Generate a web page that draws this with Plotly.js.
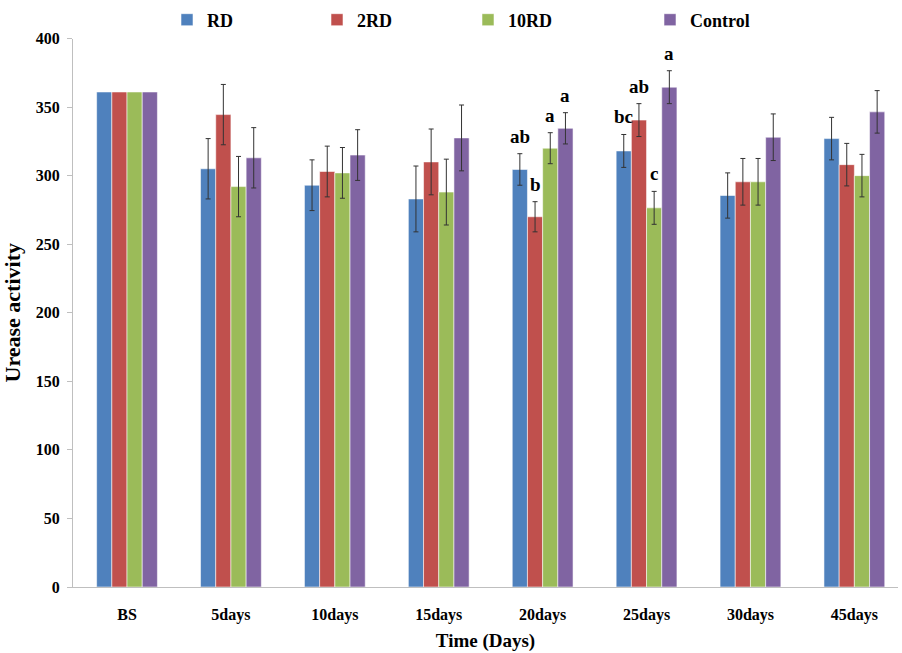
<!DOCTYPE html>
<html>
<head>
<meta charset="utf-8">
<script src="https://cdn.plot.ly/plotly-3.0.1.min.js"></script>
<style>html,body{margin:0;padding:0;background:#fff;}#chart{width:902px;height:653px;}</style>
</head>
<body>
<div id="chart"></div>
<script>
const categories = ['BS','5days','10days','15days','20days','25days','30days','45days'];
const seriesNames = ['RD','2RD','10RD','Control'];
const seriesColors = ['#4F81BD','#C0504D','#9BBB59','#8064A2'];

const rdValues      = [361, 305, 293, 283, 304.5, 318, 285.5, 327];
const rd2Values     = [361, 344.5, 303, 310, 270, 340.5, 295.5, 308];
const rd10Values    = [361, 292, 302, 288, 320, 276.5, 295.5, 300];
const controlValues = [361, 313, 315, 327.5, 334.5, 364.5, 328, 346.5];

// BS has no error bar (NaN = not drawn)
const rdErr      = [NaN, 22, 18.5, 24, 11.5, 12, 16.5, 15.5];
const rd2Err     = [NaN, 22, 18.5, 24, 11, 12, 17, 15.5];
const rd10Err    = [NaN, 22, 18.5, 24, 11.3, 12, 17, 15.5];
const controlErr = [NaN, 22, 18.5, 24, 11.4, 12, 17, 15.5];

const rdLetters      = ['', '', '', '', 'ab', 'bc', '', ''];
const rd2Letters     = ['', '', '', '', 'b', 'ab', '', ''];
const rd10Letters    = ['', '', '', '', 'a', 'c', '', ''];
const controlLetters = ['', '', '', '', 'a', 'a', '', ''];

const allValues = [rdValues, rd2Values, rd10Values, controlValues];
const allErr = [rdErr, rd2Err, rd10Err, controlErr];
const allLetters = [rdLetters, rd2Letters, rd10Letters, controlLetters];

const FONT = 'Liberation Serif, Times New Roman, serif';
const W = 902, H = 653;
const margin = {l: 73, r: 4, t: 38, b: 66};
const xRange = [-0.52, 7.42];
const bargap = 0.415;

const legendX = [167, 317, 468, 650];

const traces = seriesNames.map((name, s) => ({
  type: 'bar',
  name: name,
  x: categories,
  y: allValues[s],
  legend: s === 0 ? 'legend' : 'legend' + (s + 1),
  showlegend: true,
  marker: {color: seriesColors[s], line: {color: 'rgba(255,255,255,0.55)', width: 1}},
  error_y: {type: 'data', array: allErr[s], visible: true, color: '#333333', thickness: 1, width: 2.5}
}));

const plotW = W - margin.l - margin.r;
const pxPerUnit = plotW / (xRange[1] - xRange[0]);
const barW = pxPerUnit * (1 - bargap) / 4;

const annotations = [];
allLetters.forEach((letters, s) => {
  letters.forEach((t, i) => {
    if (!t) return;
    const e = allErr[s][i];
    annotations.push({
      x: categories[i], y: allValues[s][i] + (isNaN(e) ? 0 : e),
      xref: 'x', yref: 'y', text: '<b>' + t + '</b>', showarrow: false,
      xshift: (s - 1.5) * barW, yanchor: 'bottom', yshift: 5,
      font: {family: FONT, size: 19, color: '#000'}
    });
  });
});

const layout = {
  width: W, height: H,
  margin: margin,
  showlegend: true,
  paper_bgcolor: '#fff', plot_bgcolor: '#fff',
  barmode: 'group', bargap: bargap, bargroupgap: 0,
  font: {family: FONT, color: '#000'},
  xaxis: {
    type: 'category', range: xRange,
    showline: true, linecolor: '#BFBFBF', linewidth: 1,
    ticks: '', showgrid: false, zeroline: false,
    tickfont: {family: FONT, size: 16, color: '#000', weight: 'bold'},
    ticklabelstandoff: 13,
    title: {text: '<b>Time (Days)</b>', font: {family: FONT, size: 19, color: '#000'}, standoff: 10}
  },
  yaxis: {
    range: [0, 400], dtick: 50,
    showline: true, linecolor: '#BFBFBF', linewidth: 1,
    ticks: 'outside', ticklen: 5, tickcolor: '#BFBFBF',
    showgrid: false, zeroline: false,
    tickfont: {family: FONT, size: 16, color: '#000', weight: 'bold'},
    ticklabelstandoff: 4,
    title: {text: '<b>Urease activity</b>', font: {family: FONT, size: 22, color: '#000'}, standoff: 10}
  },
  annotations: annotations
};

seriesNames.forEach((n, s) => {
  const key = s === 0 ? 'legend' : 'legend' + (s + 1);
  layout[key] = {
    xref: 'container', yref: 'container',
    x: legendX[s] / W, y: 1 - 20 / H, xanchor: 'left', yanchor: 'middle',
    orientation: 'h', bgcolor: 'rgba(0,0,0,0)',
    font: {family: FONT, size: 18, color: '#000', weight: 'bold'},
    itemwidth: 30
  };
});

Plotly.newPlot('chart', traces, layout, {displayModeBar: false, staticPlot: true});
</script>
</body>
</html>
